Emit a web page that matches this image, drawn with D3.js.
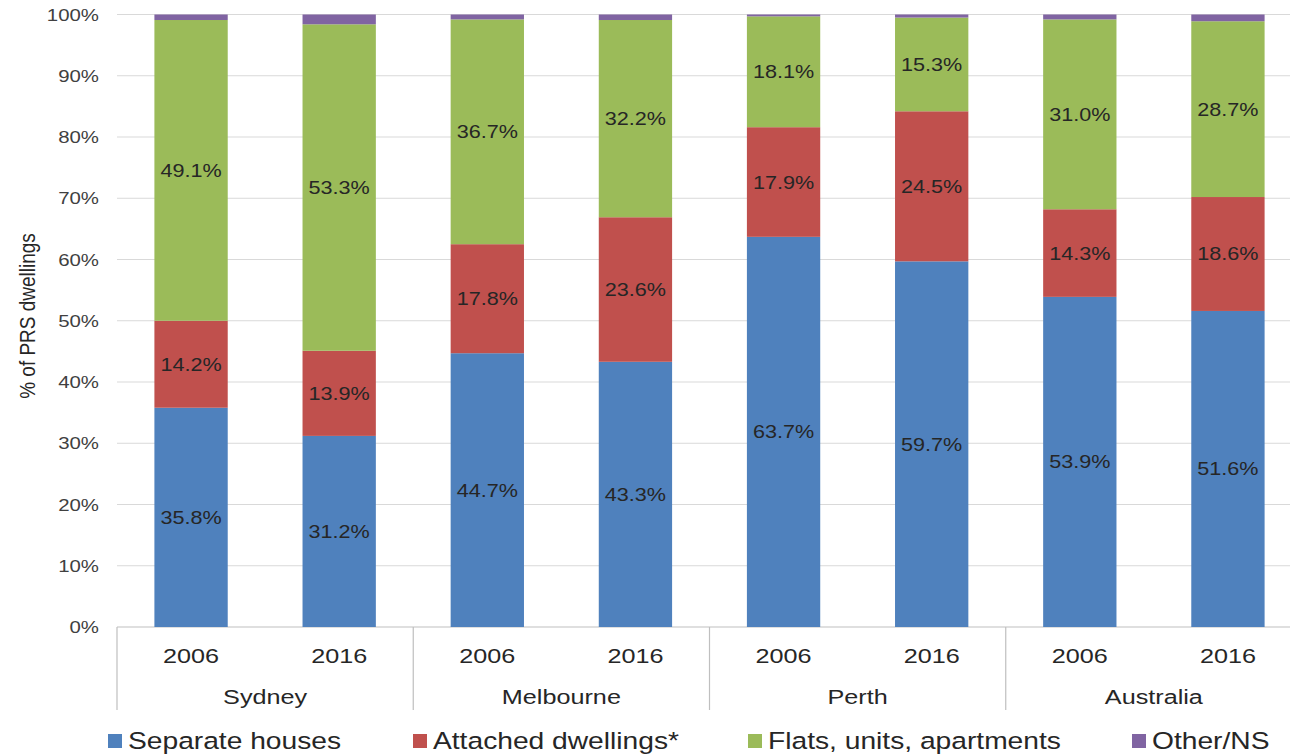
<!DOCTYPE html>
<html>
<head>
<meta charset="utf-8">
<script src="https://cdn.jsdelivr.net/npm/d3@7"></script>
<style>
  body { margin: 0; background: #fff; }
  svg text { font-family: "Liberation Sans", Arial, sans-serif; fill: #262626; }
</style>
</head>
<body>
<svg width="1290" height="755"></svg>
<script>
'use strict'

var cities = ['Sydney', 'Melbourne', 'Perth', 'Australia']
var years = ['2006', '2016']
var seriesNames = ['Separate houses', 'Attached dwellings*', 'Flats, units, apartments', 'Other/NS']
var colours = ['#4F81BD', '#C0504D', '#9BBB59', '#8064A2']

// values per bar, in order Sydney 2006, Sydney 2016, Melbourne 2006 ...
var separate = [35.8, 31.2, 44.7, 43.3, 63.7, 59.7, 53.9, 51.6]
var attached = [14.2, 13.9, 17.8, 23.6, 17.9, 24.5, 14.3, 18.6]
var flats = [49.1, 53.3, 36.7, 32.2, 18.1, 15.3, 31.0, 28.7]
var other = [0.9, 1.6, 0.8, 0.9, 0.3, 0.5, 0.8, 1.1]
var yTicks = [0, 10, 20, 30, 40, 50, 60, 70, 80, 90, 100]

var svg = d3.select('svg')

// the original picture is stretched sideways, so the text is too
var stretch = 1.2
var at = function(x, y) {
  return 'translate(' + x + ',' + y + ') scale(' + stretch + ',1)'
}

var bars = []
cities.forEach(function(c) {
  years.forEach(function(y) {
    bars.push({ id: c + '-' + y, city: c, year: y })
  })
})
bars.forEach(function(b, i) {
  b.values = [separate[i], attached[i], flats[i], other[i]]
})

var x = d3.scaleBand()
  .domain(bars.map(function(d) { return d.id }))
  .range([117, 1302])
  .paddingInner(0.505)
  .paddingOuter(0.2525)

var y = d3.scaleLinear().domain([0, 100]).range([627, 14.5])

// gridlines
svg.append('g')
  .selectAll('line')
  .data(yTicks)
  .enter().append('line')
  .attr('x1', 117).attr('x2', 1302)
  .attr('y1', function(d) { return y(d) }).attr('y2', function(d) { return y(d) })
  .attr('stroke', function(d) { return d === 0 ? '#bfbfbf' : '#d9d9d9' })
  .attr('stroke-width', 1.2)

// y tick labels
svg.append('g')
  .selectAll('text')
  .data(yTicks)
  .enter().append('text')
  .attr('transform', function(d) { return at(99, y(d)) })
  .attr('dy', '0.36em')
  .attr('text-anchor', 'end')
  .style('font-size', '17px')
  .style('fill', '#404040')
  .text(function(d) { return d + '%' })

svg.append('text')
  .attr('transform', at(27, 316) + ' rotate(-90)')
  .attr('text-anchor', 'middle')
  .attr('dy', '0.36em')
  .style('font-size', '19px')
  .text('% of PRS dwellings')

// stacked segments
var stack = d3.stack().keys([0, 1, 2, 3]).value(function(d, k) { return d.values[k] })
var layers = stack(bars)

var layer = svg.append('g')
  .selectAll('g')
  .data(layers)
  .enter().append('g')
  .attr('fill', function(d, i) { return colours[i] })

layer.selectAll('rect')
  .data(function(d) { return d })
  .enter().append('rect')
  .attr('x', function(d) { return x(d.data.id) })
  .attr('width', x.bandwidth())
  .attr('y', function(d) { return y(d[1]) })
  .attr('height', function(d) { return y(d[0]) - y(d[1]) })

// data labels, first three series only
layer.filter(function(d, i) { return i < 3 })
  .selectAll('text')
  .data(function(d) { return d })
  .enter().append('text')
  .attr('transform', function(d) {
    return at(x(d.data.id) + x.bandwidth() / 2, y((d[0] + d[1]) / 2))
  })
  .attr('dy', '0.36em')
  .attr('text-anchor', 'middle')
  .style('font-size', '18px')
  .text(function(d) { return (d[1] - d[0]).toFixed(1) + '%' })

// category axis: years then cities, with separators
var step = x.step()
svg.append('g')
  .selectAll('text')
  .data(bars)
  .enter().append('text')
  .attr('transform', function(d) { return at(x(d.id) + x.bandwidth() / 2, 655) })
  .attr('dy', '0.36em')
  .attr('text-anchor', 'middle')
  .style('font-size', '21px')
  .text(function(d) { return d.year })

svg.append('g')
  .selectAll('text')
  .data(cities)
  .enter().append('text')
  .attr('transform', function(d, i) { return at(117 + step * (2 * i + 1), 696) })
  .attr('dy', '0.36em')
  .attr('text-anchor', 'middle')
  .style('font-size', '21px')
  .text(function(d) { return d })

svg.append('g')
  .selectAll('line')
  .data(d3.range(cities.length + 1))
  .enter().append('line')
  .attr('x1', function(d) { return 117 + step * 2 * d })
  .attr('x2', function(d) { return 117 + step * 2 * d })
  .attr('y1', 627).attr('y2', 710)
  .attr('stroke', '#bfbfbf')
  .attr('stroke-width', 1.2)

// legend
var legendX = [108, 413, 748, 1132]
var legend = svg.append('g')
  .selectAll('g')
  .data(seriesNames)
  .enter().append('g')
  .attr('transform', function(d, i) { return 'translate(' + legendX[i] + ',741)' })

legend.append('rect')
  .attr('x', 0).attr('y', -7)
  .attr('width', 14).attr('height', 14)
  .attr('fill', function(d, i) { return colours[i] })

legend.append('text')
  .attr('transform', at(20, 0))
  .attr('dy', '0.36em')
  .style('font-size', '23.5px')
  .text(function(d) { return d })
</script>
</body>
</html>
